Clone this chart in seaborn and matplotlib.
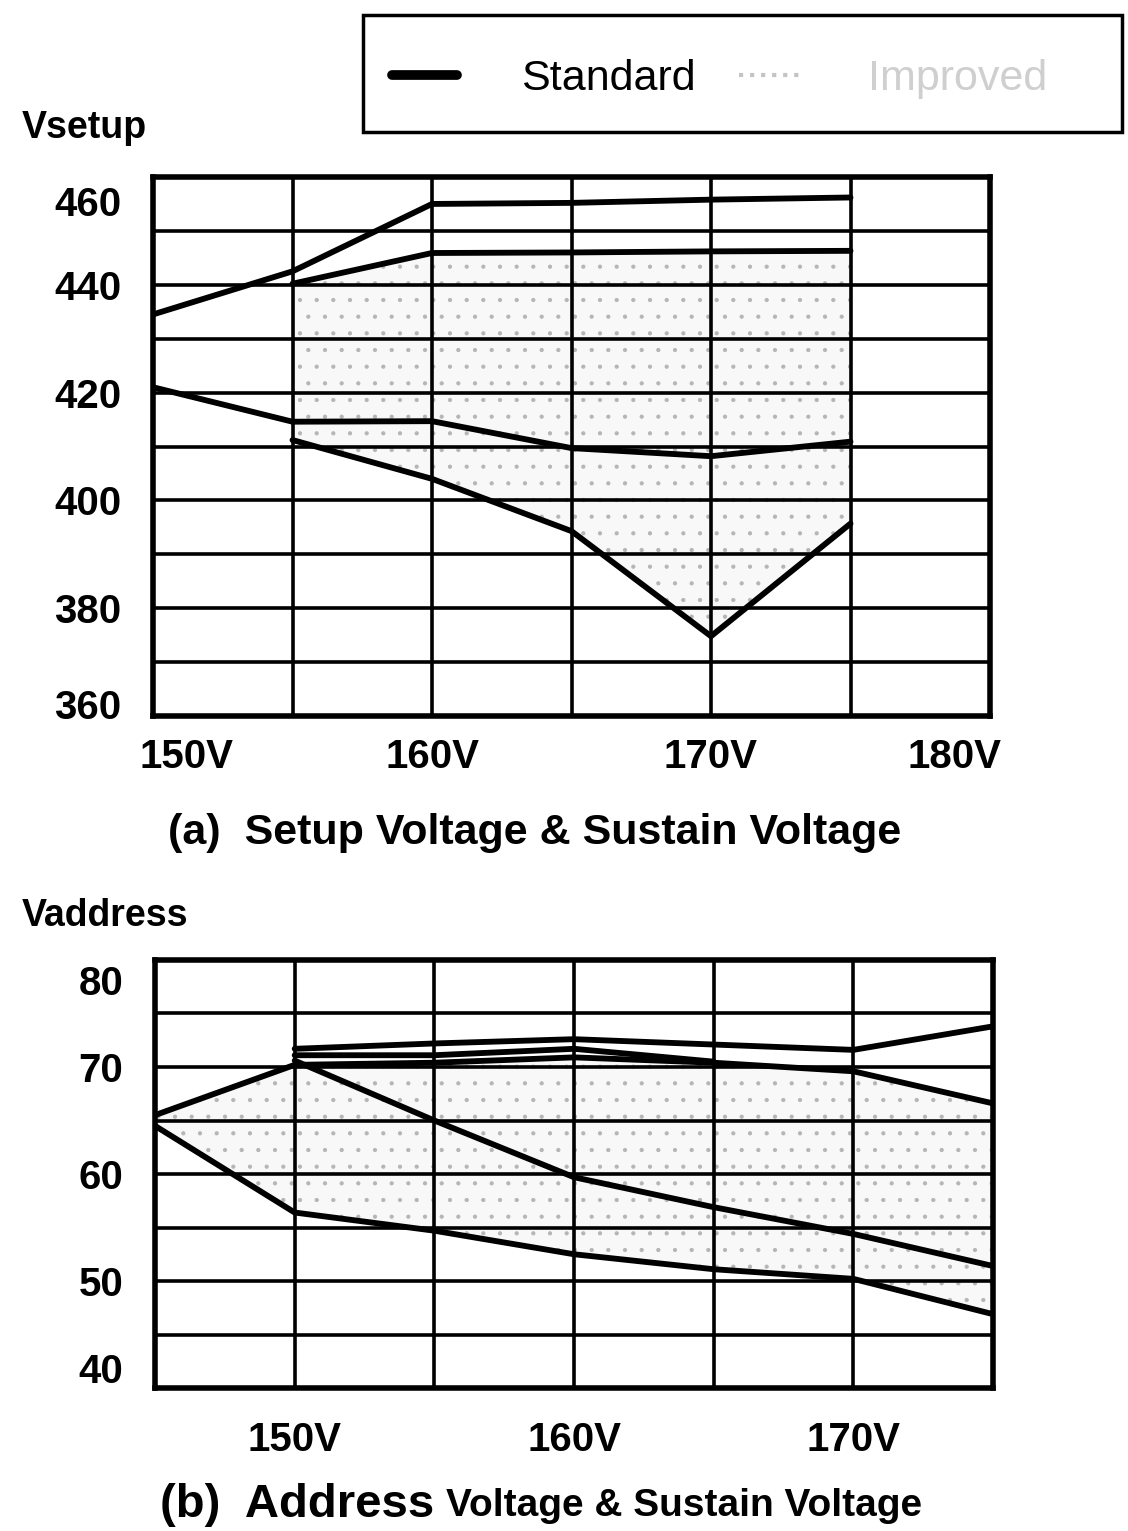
import numpy as np
import pandas as pd
import matplotlib
matplotlib.use("Agg")
import matplotlib.pyplot as plt
import seaborn as sns
from matplotlib.lines import Line2D
from matplotlib.patches import Rectangle
from matplotlib.transforms import ScaledTranslation

# ---------------- data: panel (a) Setup voltage vs sustain voltage ----------------
sustain_std_a = [150, 155, 160, 165, 170, 175]
std_upper_a = [434.5, 442.5, 455.0, 455.2, 455.8, 456.2]
std_lower_a = [421.0, 414.6, 414.7, 409.7, 408.2, 410.9]
sustain_imp_a = [155, 160, 165, 170, 175]
imp_upper_a = [440.2, 445.9, 446.0, 446.2, 446.3]
imp_lower_a = [411.2, 404.0, 394.3, 374.8, 395.7]
xticks_a = [150, 155, 160, 165, 170, 175, 180]
xlabels_a = ["150V", "", "160V", "", "170V", "", "180V"]
yticks_a = [360, 370, 380, 390, 400, 410, 420, 430, 440, 450, 460]
ylabels_a = ["360", "", "380", "", "400", "", "420", "", "440", "", "460"]

# ---------------- data: panel (b) Address voltage vs sustain voltage ----------------
sustain_std_b = [150, 155, 160, 165, 170, 175]
std_upper_b = [71.7, 72.2, 72.6, 72.1, 71.6, 73.8]
std_lower_b = [70.6, 65.0, 59.7, 56.9, 54.4, 51.4]
sustain_mid_b = [150, 155, 160, 165]
std_mid_b = [71.1, 71.1, 71.7, 70.5]
sustain_imp_b = [145, 150, 155, 160, 165, 170, 175]
imp_upper_b = [65.5, 70.2, 70.4, 70.9, 70.4, 69.6, 66.6]
imp_lower_b = [64.5, 56.4, 54.7, 52.5, 51.1, 50.2, 46.9]
xticks_b = [145, 150, 155, 160, 165, 170, 175]
xlabels_b = ["", "150V", "", "160V", "", "170V", ""]
yticks_b = [40, 45, 50, 55, 60, 65, 70, 75, 80]
ylabels_b = ["40", "", "50", "", "60", "", "70", "", "80"]

legend_labels = ["Standard", "Improved"]


def long_df(pairs):
    frames = []
    for name, xs, ys in pairs:
        frames.append(pd.DataFrame({"series": name, "sustain": xs, "value": ys}))
    return pd.concat(frames, ignore_index=True)


df_a = long_df([
    ("std_upper", sustain_std_a, std_upper_a),
    ("std_lower", sustain_std_a, std_lower_a),
    ("imp_upper", sustain_imp_a, imp_upper_a),
    ("imp_lower", sustain_imp_a, imp_lower_a),
])
df_b = long_df([
    ("std_upper", sustain_std_b, std_upper_b),
    ("std_mid", sustain_mid_b, std_mid_b),
    ("std_lower", sustain_std_b, std_lower_b),
    ("imp_upper", sustain_imp_b, imp_upper_b),
    ("imp_lower", sustain_imp_b, imp_lower_b),
])

sns.set_theme(style="white")
plt.rcParams["font.family"] = ["Liberation Sans", "DejaVu Sans"]
plt.rcParams["text.color"] = "black"
plt.rcParams["axes.labelcolor"] = "black"
plt.rcParams["xtick.color"] = "black"
plt.rcParams["ytick.color"] = "black"
plt.rcParams["hatch.linewidth"] = 0.6
plt.rcParams["hatch.color"] = "#b5b5b5"

W, H = 1128, 1531
fig = plt.figure(figsize=(W / 100, H / 100), dpi=100)
fig.patch.set_facecolor("white")


def px_axes(l, t, r, b):
    return fig.add_axes([l / W, 1 - b / H, (r - l) / W, (b - t) / H])


ax_a = px_axes(153, 177, 990, 716)
ax_b = px_axes(155, 960, 993, 1388)


def style_axes(ax, xlim, ylim, xt, xl, yt, yl, xpad):
    ax.set_xlim(*xlim)
    ax.set_ylim(*ylim)
    ax.set_xticks(xt)
    ax.set_xticklabels(xl)
    ax.set_yticks(yt)
    ax.set_yticklabels(yl)
    ax.set_xlabel("")
    ax.set_ylabel("")
    ax.set_axisbelow("line")
    ax.grid(True, color="black", linewidth=2.6)
    for s in ax.spines.values():
        s.set_visible(True)
        s.set_color("black")
        s.set_linewidth(4.0)
    ax.tick_params(axis="both", length=0, labelsize=29, colors="black", labelcolor="black")
    ax.tick_params(axis="y", pad=23)
    ax.tick_params(axis="x", pad=xpad)
    for lab in ax.get_xticklabels() + ax.get_yticklabels():
        lab.set_fontweight("bold")
        lab.set_color("black")
    ax.set_facecolor("white")


# shaded "improved" regions (stipple)
ax_a.fill_between(sustain_imp_a, imp_lower_a, imp_upper_a, facecolor="#f8f8f8",
                  hatch=".", edgecolor="#b5b5b5", linewidth=0, zorder=0.3)
ax_b.fill_between(sustain_imp_b, imp_lower_b, imp_upper_b, facecolor="#f8f8f8",
                  hatch=".", edgecolor="#b5b5b5", linewidth=0, zorder=0.3)

sns.lineplot(data=df_a, x="sustain", y="value", units="series", estimator=None,
             color="black", linewidth=4.2, sort=False, legend=False, ax=ax_a, zorder=3)
sns.lineplot(data=df_b, x="sustain", y="value", units="series", estimator=None,
             color="black", linewidth=4.2, sort=False, legend=False, ax=ax_b, zorder=3)

style_axes(ax_a, (150, 180), (360, 460), xticks_a, xlabels_a, yticks_a, ylabels_a, 16)
style_axes(ax_b, (145, 175), (40, 80), xticks_b, xlabels_b, yticks_b, ylabels_b, 24)


def shift(label, dx_px, dy_px):
    label.set_transform(label.get_transform() +
                        ScaledTranslation(dx_px / 100, dy_px / 100, fig.dpi_scale_trans))


xl = ax_a.get_xticklabels()
shift(xl[0], 34, 0)
shift(xl[-1], -35, 0)
yl = ax_a.get_yticklabels()
shift(yl[-1], 0, -24)
shift(yl[0], 0, 12)
ylb = ax_b.get_yticklabels()
shift(ylb[-1], 0, -20)
shift(ylb[0], 0, 20)

# axis captions
fig.text(22 / W, 1 - 128 / H, "Vsetup", ha="left", va="center", fontsize=27,
         fontweight="bold", color="black")
fig.text(22 / W, 1 - 916 / H, "Vaddress", ha="left", va="center", fontsize=27,
         fontweight="bold", color="black")

# panel titles
fig.text(535 / W, 1 - 833 / H, "(a)  Setup Voltage & Sustain Voltage", ha="center",
         va="center", fontsize=31, fontweight="bold", color="black")
t1 = fig.text(160 / W, 1 - 1505 / H, "(b)  Address", ha="left", va="center",
              fontsize=34, fontweight="bold", color="black")
fig.canvas.draw()
bb = t1.get_window_extent(renderer=fig.canvas.get_renderer())
fig.text((bb.x1 + 12) / W, 1 - 1506 / H, "Voltage & Sustain Voltage", ha="left",
         va="center", fontsize=28, fontweight="bold", color="black")

# legend box
fig.patches.append(Rectangle((363 / W, 1 - 132 / H), (1122 - 363) / W, (132 - 15) / H,
                             transform=fig.transFigure, fill=False, edgecolor="black",
                             linewidth=2.5))
handles = [Line2D([], [], color="black", linewidth=7),
           Line2D([], [], color="#c4c4c4", linewidth=3, linestyle=":")]
leg = fig.legend(handles, legend_labels, loc="center left",
                 bbox_to_anchor=(392 / W, 1 - 79 / H), ncol=2, frameon=False,
                 fontsize=31, handlelength=1.5, handletextpad=1.5, columnspacing=1.0,
                 borderpad=0, borderaxespad=0)
leg.get_texts()[0].set_color("black")
leg.get_texts()[1].set_color("#cfcfcf")

fig.savefig("out.png", dpi=100, facecolor="white")
